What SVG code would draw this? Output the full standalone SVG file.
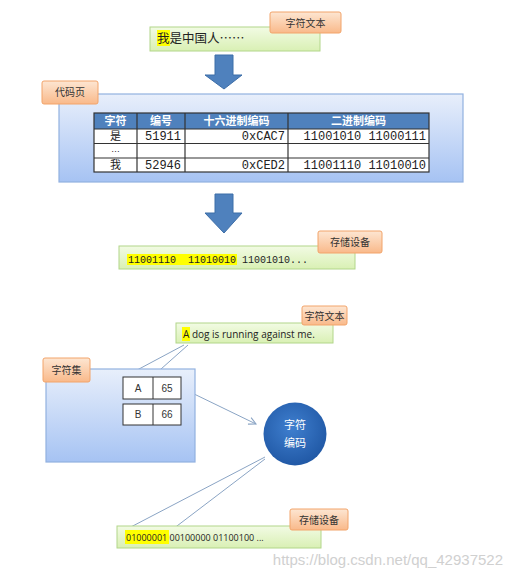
<svg xmlns="http://www.w3.org/2000/svg" width="515" height="577" viewBox="0 0 515 577">
<defs>
<linearGradient id="gGreen" x1="0" y1="0" x2="0" y2="1"><stop offset="0" stop-color="#f2fbe4"/><stop offset="1" stop-color="#d9f0b4"/></linearGradient>
<linearGradient id="gOrange" x1="0" y1="0" x2="0" y2="1"><stop offset="0" stop-color="#fde6d2"/><stop offset="1" stop-color="#f9b98a"/></linearGradient>
<linearGradient id="gBlue" x1="0" y1="0" x2="0" y2="1"><stop offset="0" stop-color="#e8effb"/><stop offset="1" stop-color="#a6c3f3"/></linearGradient>
<radialGradient id="gCircle" cx="0.45" cy="0.4" r="0.6"><stop offset="0" stop-color="#3f7fcf"/><stop offset="1" stop-color="#2159a6"/></radialGradient>
<marker id="open" viewBox="0 0 10 10" refX="9" refY="5" markerWidth="9" markerHeight="9" orient="auto" markerUnits="userSpaceOnUse"><path d="M1,1 L9,5 L1,9" fill="none" stroke="#8aa4c4" stroke-width="1.2"/></marker>
</defs>
<style>
.green{fill:url(#gGreen);stroke:#b2d68a;stroke-width:1}
.orange{fill:url(#gOrange);stroke:#f2a46a;stroke-width:1}
.blue{fill:url(#gBlue);stroke:#92b1e0;stroke-width:1.2}
.lbl{font-family:"Noto Sans CJK SC","Noto Sans",sans-serif;font-size:10px;fill:#333;text-anchor:middle}
.hl{fill:#ffff00}
.darr{fill:#4f81bd;stroke:#3d6ea8;stroke-width:1}
.tb{fill:none;stroke:#333;stroke-width:1.2}
.th{font-family:"Noto Sans CJK SC",sans-serif;font-size:11px;fill:#fff;font-weight:bold;text-anchor:middle}
.td{font-family:"Liberation Mono","Noto Sans CJK SC",monospace;font-size:12px;fill:#222}
.tdc{font-family:"Noto Sans CJK SC",sans-serif;font-size:11px;fill:#222;text-anchor:middle}
.conn{fill:none;stroke:#8aa4c4;stroke-width:1}
.small{font-family:"Liberation Sans","Noto Sans",sans-serif;font-size:10px;fill:#333;text-anchor:middle}
</style>

<g id="text1">
<rect class="green" x="150" y="27" width="170" height="24"/>
<rect class="hl" x="157" y="30" width="13" height="16"/>
<text x="157" y="43" font-family="Noto Sans CJK SC,sans-serif" font-size="12.5" fill="#222">我是中国人……</text>
<rect class="orange" x="270" y="12" width="71" height="21" rx="2"/>
<text class="lbl" x="305.5" y="26.5">字符文本</text>
</g>

<g id="arrow1">
<path class="darr" d="M215,55 H233 V75 H242 L224,89 L205,75 H215 Z"/>
</g>

<g id="codepage">
<rect class="blue" x="59" y="94" width="404" height="88"/>
<rect x="94" y="113" width="335" height="16" fill="#4f81bd"/>
<rect x="94" y="129" width="335" height="43" fill="#fff"/>
<rect class="tb" x="94" y="113" width="335" height="59"/>
<line class="tb" x1="94" y1="129" x2="429" y2="129"/>
<line class="tb" x1="94" y1="143.5" x2="429" y2="143.5"/>
<line class="tb" x1="94" y1="158" x2="429" y2="158"/>
<line class="tb" x1="137" y1="113" x2="137" y2="172"/>
<line class="tb" x1="185" y1="113" x2="185" y2="172"/>
<line class="tb" x1="288" y1="113" x2="288" y2="172"/>
<text class="th" x="115.5" y="125">字符</text>
<text class="th" x="161" y="125">编号</text>
<text class="th" x="236.5" y="125">十六进制编码</text>
<text class="th" x="358.5" y="125">二进制编码</text>
<text class="tdc" x="115.5" y="140">是</text>
<text class="td" x="145" y="140">51911</text>
<text class="td" x="285" y="140" text-anchor="end">0xCAC7</text>
<text class="td" x="426" y="140" text-anchor="end">11001010 11000111</text>
<text x="115.5" y="152" font-family="Liberation Sans,sans-serif" font-size="9" fill="#222" text-anchor="middle">…</text>
<text class="tdc" x="115.5" y="169">我</text>
<text class="td" x="145" y="169">52946</text>
<text class="td" x="285" y="169" text-anchor="end">0xCED2</text>
<text class="td" x="426" y="169" text-anchor="end">11001110 11010010</text>
<rect class="orange" x="42" y="81" width="56" height="23" rx="2"/>
<text class="lbl" x="70" y="96">代码页</text>
</g>

<g id="arrow2">
<path class="darr" d="M215,194 H233 V213 H242 L224,233 L205,213 H215 Z"/>
</g>

<g id="storage1">
<rect class="green" x="119" y="246" width="236" height="23"/>
<rect class="hl" x="127" y="254" width="110" height="11"/>
<text x="128" y="263" font-family="Liberation Mono,monospace" font-size="10" fill="#222" xml:space="preserve">11001110  11010010 11001010...</text>
<rect class="orange" x="318" y="231" width="64" height="22" rx="2"/>
<text class="lbl" x="350" y="246">存储设备</text>
</g>

<g id="connectors">
<line class="conn" x1="184" y1="345" x2="124" y2="377"/>
<line class="conn" x1="188" y1="345" x2="152" y2="377"/>
<line class="conn" x1="190" y1="392" x2="256" y2="424" marker-end="url(#open)"/>
<line class="conn" x1="265" y1="457" x2="127" y2="529"/>
<line class="conn" x1="265" y1="459" x2="173" y2="529"/>
</g>

<g id="text2">
<rect class="green" x="176" y="323" width="157" height="20"/>
<rect class="hl" x="182" y="327" width="8" height="14"/>
<text x="183" y="338" font-family="Open Sans,Noto Sans,sans-serif" font-size="10" fill="#222">A dog is running against me.</text>
<rect class="orange" x="302" y="306" width="45" height="19" rx="2"/>
<text class="lbl" x="324.5" y="319.5">字符文本</text>
</g>

<g id="charset">
<rect class="blue" x="46" y="369" width="149" height="93"/>
<rect x="123" y="377" width="58" height="22" fill="#fff" stroke="#333" stroke-width="1"/>
<line x1="153" y1="377" x2="153" y2="399" stroke="#333"/>
<rect x="123" y="404" width="58" height="21" fill="#fff" stroke="#333" stroke-width="1"/>
<line x1="153" y1="404" x2="153" y2="425" stroke="#333"/>
<text class="small" x="138" y="392">A</text>
<text class="small" x="167" y="392">65</text>
<text class="small" x="138" y="418">B</text>
<text class="small" x="167" y="418">66</text>
<rect class="orange" x="43" y="358" width="47" height="24" rx="2"/>
<text class="lbl" x="66.5" y="374">字符集</text>
</g>

<g id="encoding">
<circle cx="295" cy="434" r="31.5" fill="url(#gCircle)"/>
<text x="295" y="429" font-family="Noto Sans CJK SC,sans-serif" font-size="11" fill="#fff" text-anchor="middle">字符</text>
<text x="295" y="447" font-family="Noto Sans CJK SC,sans-serif" font-size="11" fill="#fff" text-anchor="middle">编码</text>
</g>

<g id="storage2">
<rect class="green" x="117" y="526" width="204" height="22"/>
<rect class="hl" x="125" y="530" width="44" height="14"/>
<text x="126" y="541" font-family="Open Sans,Noto Sans,sans-serif" font-size="9" fill="#222">01000001 00100000 01100100 ...</text>
<rect class="orange" x="290" y="509" width="58" height="21" rx="2"/>
<text class="lbl" x="319" y="523.5">存储设备</text>
</g>

<text x="503" y="565" font-family="Liberation Sans,sans-serif" font-size="15" fill="#d0d0d0" text-anchor="end">https://blog.csdn.net/qq_42937522</text>
</svg>
